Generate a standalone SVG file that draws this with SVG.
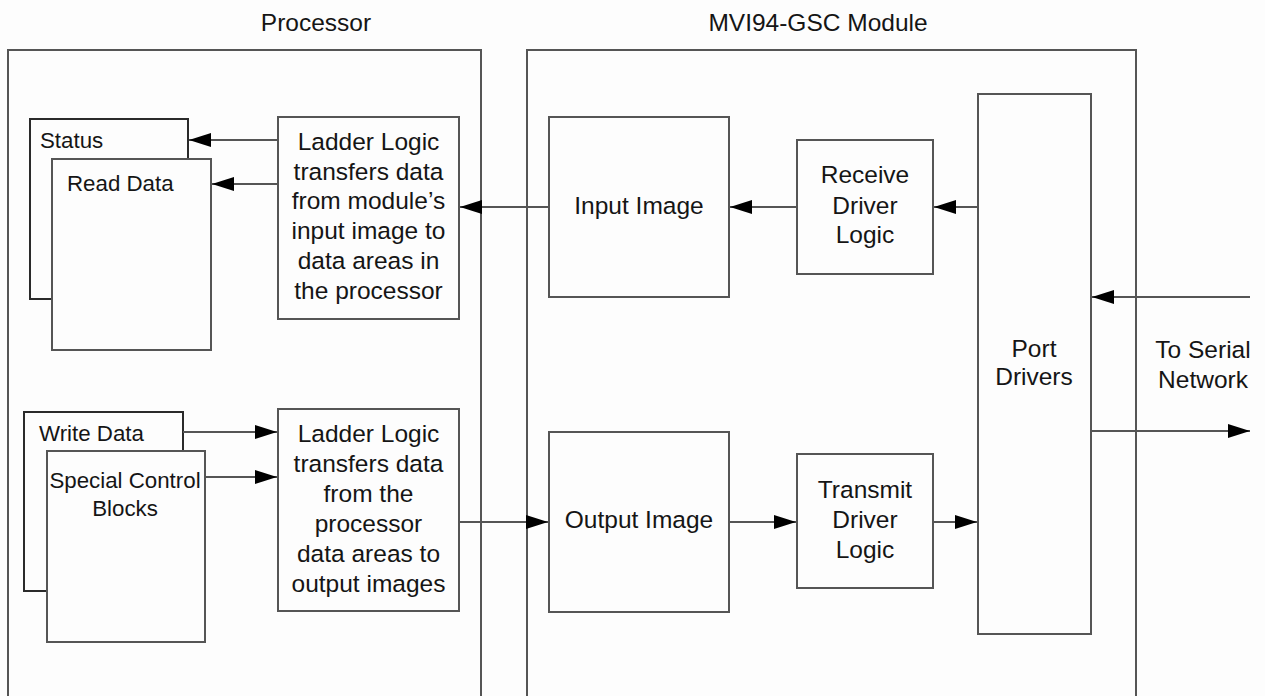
<svg xmlns="http://www.w3.org/2000/svg" width="1265" height="696" viewBox="0 0 1265 696">
<style>
text{font-family:"Liberation Sans",Arial,sans-serif;fill:#151515}
.big{font-size:24.5px}
.sm{font-size:22.3px}
.c{text-anchor:middle}
.box{fill:#fdfdfd;stroke:#555;stroke-width:2}
.dark{fill:#fdfdfd;stroke:#2a2a2a;stroke-width:2}
.frame{fill:none;stroke:#555;stroke-width:2}
.conn{stroke:#555;stroke-width:2;fill:none;marker-end:url(#ah)}
</style>
<defs>
<marker id="ah" markerUnits="userSpaceOnUse" markerWidth="22" markerHeight="14" refX="22" refY="7" orient="auto">
<path d="M0,0 L22,7 L0,14 Z" fill="#000"/>
</marker>
</defs>
<rect x="0" y="0" width="1265" height="696" fill="#fdfdfd"/>
<g id="processor">
<path class="frame" d="M8,696 V50 H481 V696"/>
<text class="big c" x="316" y="31">Processor</text>
</g>
<g id="module">
<path class="frame" d="M527,696 V50 H1136 V696"/>
<text class="big c" x="818" y="31">MVI94-GSC Module</text>
</g>
<g id="status">
<rect class="dark" x="30" y="119" width="158" height="180"/>
<text class="sm" x="40" y="148">Status</text>
</g>
<g id="readdata">
<rect class="box" x="52" y="159" width="159" height="191"/>
<text class="sm" x="67" y="191">Read Data</text>
</g>
<g id="ladder1">
<rect class="box" x="278" y="117" width="181" height="202"/>
<text class="big c" x="368.5" y="150">Ladder Logic</text>
<text class="big c" x="368.5" y="180">transfers data</text>
<text class="big c" x="368.5" y="209">from module’s</text>
<text class="big c" x="368.5" y="239">input image to</text>
<text class="big c" x="368.5" y="269">data areas in</text>
<text class="big c" x="368.5" y="299">the processor</text>
</g>
<g id="writedata">
<rect class="dark" x="24" y="412" width="159" height="179"/>
<text class="sm" x="39" y="441">Write Data</text>
</g>
<g id="special">
<rect class="box" x="47" y="451" width="158" height="191"/>
<text class="sm c" x="125" y="488">Special Control</text>
<text class="sm c" x="125" y="516">Blocks</text>
</g>
<g id="ladder2">
<rect class="box" x="278" y="409" width="181" height="202"/>
<text class="big c" x="368.5" y="442">Ladder Logic</text>
<text class="big c" x="368.5" y="472">transfers data</text>
<text class="big c" x="368.5" y="502">from the</text>
<text class="big c" x="368.5" y="532">processor</text>
<text class="big c" x="368.5" y="562">data areas to</text>
<text class="big c" x="368.5" y="592">output images</text>
</g>
<g id="inputimage">
<rect class="box" x="549" y="117" width="180" height="180"/>
<text class="big c" x="639" y="214">Input Image</text>
</g>
<g id="receive">
<rect class="box" x="797" y="140" width="136" height="134"/>
<text class="big c" x="865" y="183">Receive</text>
<text class="big c" x="865" y="214">Driver</text>
<text class="big c" x="865" y="243">Logic</text>
</g>
<g id="outputimage">
<rect class="box" x="549" y="432" width="180" height="180"/>
<text class="big c" x="639" y="528">Output Image</text>
</g>
<g id="transmit">
<rect class="box" x="797" y="454" width="136" height="134"/>
<text class="big c" x="865" y="498">Transmit</text>
<text class="big c" x="865" y="528">Driver</text>
<text class="big c" x="865" y="558">Logic</text>
</g>
<g id="port">
<rect class="box" x="978" y="94" width="113" height="540"/>
<text class="big c" x="1034" y="357">Port</text>
<text class="big c" x="1034" y="385">Drivers</text>
</g>
<g id="serial">
<text class="big c" x="1203" y="358">To Serial</text>
<text class="big c" x="1203" y="388">Network</text>
</g>
<g id="connectors">
<line class="conn" x1="278" y1="140" x2="189" y2="140"/>
<line class="conn" x1="278" y1="184" x2="212" y2="184"/>
<line class="conn" x1="549" y1="207" x2="460" y2="207"/>
<line class="conn" x1="797" y1="207" x2="730" y2="207"/>
<line class="conn" x1="978" y1="207" x2="934" y2="207"/>
<line class="conn" x1="1250" y1="297" x2="1092" y2="297"/>
<line class="conn" x1="183" y1="432" x2="277" y2="432"/>
<line class="conn" x1="205" y1="477" x2="277" y2="477"/>
<line class="conn" x1="459" y1="522" x2="548" y2="522"/>
<line class="conn" x1="729" y1="522" x2="796" y2="522"/>
<line class="conn" x1="933" y1="522" x2="977" y2="522"/>
<line class="conn" x1="1091" y1="431" x2="1250" y2="431"/>
</g>
</svg>
